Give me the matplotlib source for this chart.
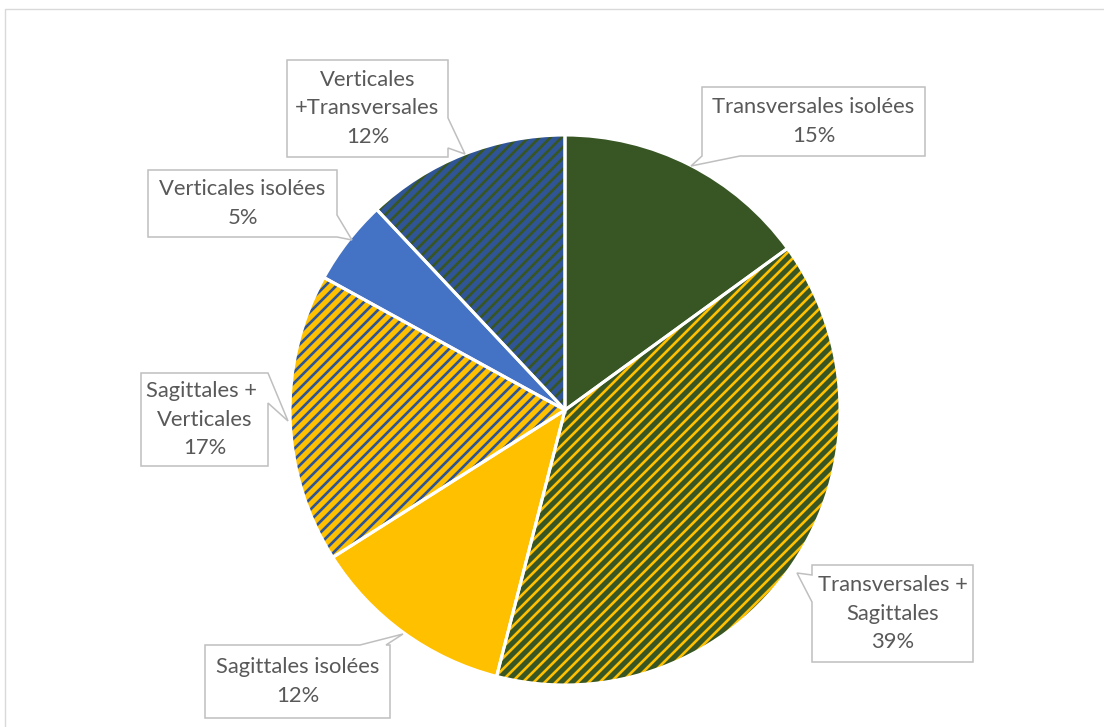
import matplotlib
matplotlib.use("Agg")
import numpy as np
import matplotlib.pyplot as plt
from matplotlib.patches import Wedge, Polygon, Rectangle
from matplotlib.collections import LineCollection

# slices, clockwise from 12 o'clock
labels = ["Transversales isolées", "Transversales +\nSagittales", "Sagittales isolées",
          "Sagittales + \nVerticales", "Verticales isolées", "Verticales\n+Transversales"]
values = [15, 39, 12, 17, 5, 12]

GREEN = "#375623"
YELLOW = "#FFC000"
BLUE = "#4472C4"
DBLUE = "#2F5597"
base_colors = [GREEN, GREEN, YELLOW, YELLOW, BLUE, DBLUE]
stripe_colors = [None, YELLOW, None, DBLUE, None, GREEN]

# callout boxes in pixels (y down): box, side of the pointer, pointer base, tip
callouts = [
    ((702, 87, 925, 156), "bottom", (702, 740), (691, 166)),
    ((812, 565, 973, 662), "left", (575, 602), (797, 573)),
    ((205, 645, 390, 718), "top", (360, 386), (403, 634)),
    ((141, 373, 268, 466), "right", (373, 403), (288, 421)),
    ((148, 170, 337, 237), "right", (215, 237), (352, 240)),
    ((287, 60, 448, 157), "right", (118, 148), (465, 154)),
]

W, H = 1104, 727
CX, CY, R = 565, 410, 275
PERIOD = 11  # horizontal distance between stripes, px

plt.rcParams["font.family"] = ["Lato", "DejaVu Sans"]

fig = plt.figure(figsize=(W / 100, H / 100), dpi=100)
ax = fig.add_axes([0, 0, 1, 1])

wedges, _ = ax.pie(values, colors=base_colors, startangle=90, counterclock=False,
                   center=(CX, H - CY), radius=R, wedgeprops=dict(linewidth=0))

# diagonal "/" stripes, clipped to each patterned wedge
offs = np.arange(-2 * R, 2 * R, PERIOD)
segs = [[(CX - R + o, H - CY - R - 10), (CX - R + o + 2 * R + 20, H - CY + R + 10)] for o in offs]
for w, sc in zip(wedges, stripe_colors):
    if sc is None:
        continue
    lc = LineCollection(segs, colors=sc, linewidths=1.9, zorder=2)
    ax.add_collection(lc)
    lc.set_clip_path(w)

for w in wedges:
    ax.add_patch(Wedge(w.center, w.r, w.theta1, w.theta2, facecolor="none",
                       edgecolor="white", linewidth=2.2, zorder=3))


def callout_path(box, side, base, tip):
    x0, y0, x1, y1 = box
    a, b = base
    pts = [(x0, y0)]
    if side == "top":
        pts += [(a, y0), tip, (b, y0)]
    pts += [(x1, y0)]
    if side == "right":
        pts += [(x1, a), tip, (x1, b)]
    pts += [(x1, y1)]
    if side == "bottom":
        pts += [(b, y1), tip, (a, y1)]
    pts += [(x0, y1)]
    if side == "left":
        pts += [(x0, b), tip, (x0, a)]
    return [(x, H - y) for x, y in pts]


for (box, side, base, tip), lab, v in zip(callouts, labels, values):
    ax.add_patch(Polygon(callout_path(box, side, base, tip), closed=True,
                         facecolor="white", edgecolor="#BFBFBF", linewidth=1.1, zorder=4))
    x0, y0, x1, y1 = box
    ax.text((x0 + x1) / 2, H - (y0 + y1) / 2, f"{lab}\n{v}%", ha="center", va="center",
            fontsize=15.8, color="#595959", linespacing=1.55, zorder=5)

# chart area border
ax.add_patch(Rectangle((5, -20), W + 20, H - 9 + 20, facecolor="none",
                       edgecolor="#D9D9D9", linewidth=1.0, zorder=1))

ax.set_xlim(0, W)
ax.set_ylim(0, H)
ax.set_aspect("equal")
ax.axis("off")

fig.savefig("out.png", dpi=100)
